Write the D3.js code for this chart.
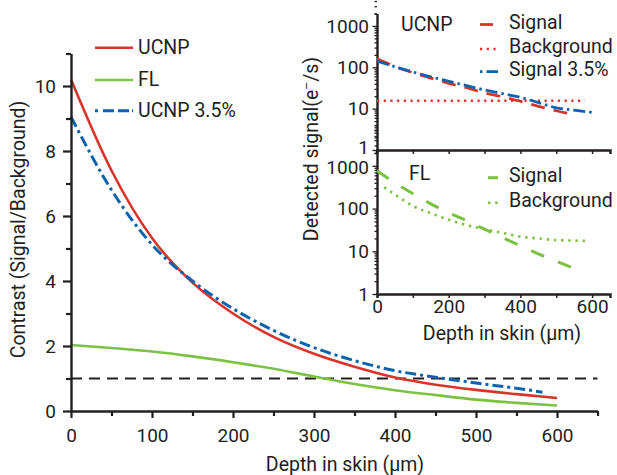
<!DOCTYPE html>
<html>
<head>
<meta charset="utf-8">
<script src="https://cdn.jsdelivr.net/npm/d3@7"></script>
<style>
  body { margin: 0; background: #fff; }
  svg text { font-family: Roboto, "Liberation Sans", sans-serif; fill: #231f20; }
</style>
</head>
<body>
<svg id="chart" width="617" height="475"></svg>
<script>
// ---- Contrast vs depth (main panel) ----
const depth = [0, 50, 100, 150, 200, 250, 300, 350, 400, 450, 500, 550, 600];
const contrastUCNP = [10.2, 7.4, 5.32, 3.95, 3.0, 2.28, 1.76, 1.36, 1.03, 0.81, 0.65, 0.52, 0.40];
const contrastFL = [2.03, 1.94, 1.83, 1.68, 1.50, 1.30, 1.06, 0.83, 0.64, 0.49, 0.35, 0.25, 0.17];
const depthUCNP35 = [0, 50, 100, 150, 200, 250, 300, 350, 400, 450, 500, 550, 582];
const contrastUCNP35 = [9.05, 6.8, 5.12, 4.0, 3.15, 2.48, 1.95, 1.55, 1.24, 1.04, 0.86, 0.70, 0.58];
const thresholdContrast = 1;

// ---- Detected signal (inset, e-/s) ----
const ucnpSignalDepth = [0, 50, 100, 150, 200, 250, 300, 350, 400, 450, 500, 545];
const ucnpSignal = [160, 105, 74, 55, 41, 32, 24, 19.4, 15.1, 11.4, 8.9, 7.3];
const ucnpBackgroundDepth = [0, 580];
const ucnpBackground = [15.5, 15.5];
const ucnp35SignalDepth = [0, 50, 100, 150, 200, 250, 300, 350, 400, 450, 500, 550, 600];
const ucnp35Signal = [141, 103, 77, 59, 46, 36, 28.4, 23, 18.7, 14, 10.5, 9.2, 8.1];
const flSignalDepth = [0, 50, 100, 150, 200, 250, 300, 350, 400, 450, 500, 545];
const flSignal = [770, 400, 224, 129, 80, 52, 33, 21, 13.5, 8.7, 5.9, 4.1];
const flBackgroundDepth = [20, 50, 100, 150, 200, 250, 300, 350, 400, 450, 500, 550, 580];
const flBackground = [315, 213, 115, 78, 55, 41, 33, 27, 22, 20, 18.2, 17.8, 17.5];

// ---- Axis ticks ----
const mainXTicks = d3.range(0, 651, 50);
const mainXLabels = [0, 100, 200, 300, 400, 500, 600];
const mainYTicks = d3.range(0, 12, 1);
const mainYLabels = [0, 2, 4, 6, 8, 10];
const insetXTicks = [0, 100, 200, 300, 400, 500, 600];
const insetXLabels = [0, 200, 400, 600];
const logMajor = [1, 10, 100, 1000];

const RED = "#d8352a", GREEN = "#7cc242", BLUE = "#0b63ad", INK = "#231f20";
const FS = "19.5px";

const svg = d3.select("#chart");

// ================= main panel =================
const x = d3.scaleLinear().domain([0, 650]).range([71, 597.5]);
const y = d3.scaleLinear().domain([0, 11]).range([411, 53.5]);

function pairs(xs, ys) { return xs.map((d, i) => [d, ys[i]]); }

const line = d3.line().x(d => x(d[0])).y(d => y(d[1])).curve(d3.curveMonotoneX);

// threshold line at contrast = 1
svg.append("line")
  .attr("x1", x(0)).attr("x2", x(650))
  .attr("y1", y(thresholdContrast)).attr("y2", y(thresholdContrast))
  .attr("stroke", INK).attr("stroke-width", 2.2)
  .attr("stroke-dasharray", "11,7");

svg.append("path").datum(pairs(depth, contrastFL))
  .attr("d", line).attr("fill", "none").attr("stroke", GREEN).attr("stroke-width", 2.6);
svg.append("path").datum(pairs(depth, contrastUCNP))
  .attr("d", line).attr("fill", "none").attr("stroke", RED).attr("stroke-width", 2.6);
svg.append("path").datum(pairs(depthUCNP35, contrastUCNP35))
  .attr("d", line).attr("fill", "none").attr("stroke", BLUE).attr("stroke-width", 3)
  .attr("stroke-dasharray", "11,4,3,4");

// x axis
const gx = svg.append("g").attr("transform", `translate(0,${y(0)})`)
  .call(d3.axisBottom(x).tickValues(mainXTicks).tickSizeOuter(0)
    .tickFormat(d => mainXLabels.includes(d) ? d : ""));
// y axis
const gy = svg.append("g").attr("transform", `translate(${x(0)},0)`)
  .call(d3.axisLeft(y).tickValues(mainYTicks).tickSizeOuter(0)
    .tickFormat(d => mainYLabels.includes(d) ? d : ""));

[gx, gy].forEach(g => {
  g.select(".domain").attr("stroke", INK).attr("stroke-width", 2.4);
  g.selectAll(".tick line").attr("stroke", INK).attr("stroke-width", 2.2);
  g.selectAll(".tick text").style("font-size", "19px").attr("fill", INK);
});
gx.selectAll(".tick line").attr("y2", d => mainXLabels.includes(d) ? 7 : 5);
gx.selectAll(".tick text").attr("y", 31).attr("dy", 0);
gy.selectAll(".tick line").attr("x2", d => mainYLabels.includes(d) ? -8 : -5);
gy.selectAll(".tick text").attr("x", -15);

// axis titles
svg.append("text").attr("x", 345).attr("y", 471).attr("text-anchor", "middle")
  .style("font-size", FS).text("Depth in skin (µm)");
svg.append("text").attr("transform", "translate(25,229.5) rotate(-90)")
  .attr("text-anchor", "middle").style("font-size", FS).text("Contrast (Signal/Background)");

// legend
const mainLegend = [
  { label: "UCNP", color: RED, dash: null, width: 2.6, y: 47.7 },
  { label: "FL", color: GREEN, dash: null, width: 2.6, y: 80 },
  { label: "UCNP 3.5%", color: BLUE, dash: "3,5,11,4,11", width: 3, y: 110.7 }
];
mainLegend.forEach(d => {
  svg.append("line").attr("x1", 95).attr("x2", 133).attr("y1", d.y).attr("y2", d.y)
    .attr("stroke", d.color).attr("stroke-width", d.width)
    .attr("stroke-dasharray", d.dash);
  svg.append("text").attr("x", 138).attr("y", d.y + 5.8).style("font-size", FS).text(d.label);
});

// ================= inset panels =================
const xi = d3.scaleLinear().domain([0, 650]).range([377, 610]);
const yTop = d3.scaleLog().domain([1, 2000]).range([150, 13.5]);
const yBot = d3.scaleLog().domain([1, 2000]).range([294, 153]);

function logTicks() {
  const t = [];
  for (let p = 1; p <= 1000; p *= 10) for (let m = 1; m <= 9; m++) t.push(m * p);
  t.push(2000);
  return t;
}

function drawLogAxis(yScale, top, labelShift) {
  const g = svg.append("g").attr("transform", `translate(${xi(0)},0)`)
    .call(d3.axisLeft(yScale).tickValues(logTicks()).tickSizeOuter(0)
      .tickFormat(d => logMajor.includes(d) ? d3.format("d")(d) : ""));
  g.select(".domain").attr("stroke", INK).attr("stroke-width", 2.4);
  g.selectAll(".tick line").attr("stroke", INK).attr("stroke-width", 1.3)
    .attr("x2", d => logMajor.includes(d) ? -4.5 : -2.5);
  g.selectAll(".tick text").style("font-size", "19px").attr("x", -8).attr("fill", INK)
    .attr("y", d => labelShift[d] || 0);
  // carry the vertical axis up to the panel's top edge
  svg.append("line").attr("x1", xi(0)).attr("x2", xi(0))
    .attr("y1", yScale.range()[1]).attr("y2", top)
    .attr("stroke", INK).attr("stroke-width", 2.4);
  return g;
}
// the "1" of the upper panel and the "1000" of the lower one sit close together
drawLogAxis(yTop, 13.5, { 1: -3 });
drawLogAxis(yBot, 150, { 1000: 2 });

// shared boundary between the two inset panels (ticks pointing down)
const gMid = svg.append("g").attr("transform", `translate(0,150)`)
  .call(d3.axisBottom(xi).tickValues(insetXTicks).tickSizeOuter(0).tickSize(4).tickFormat(""));
gMid.select(".domain").attr("stroke", INK).attr("stroke-width", 2.4);
gMid.selectAll(".tick line").attr("stroke", INK).attr("stroke-width", 1.5);

// bottom inset x axis
const gxi = svg.append("g").attr("transform", `translate(0,294)`)
  .call(d3.axisBottom(xi).tickValues(insetXTicks).tickSizeOuter(0).tickSize(4)
    .tickFormat(d => insetXLabels.includes(d) ? d : ""));
gxi.select(".domain").attr("stroke", INK).attr("stroke-width", 2.4);
gxi.selectAll(".tick line").attr("stroke", INK).attr("stroke-width", 1.5);
gxi.selectAll(".tick text").style("font-size", "19px").attr("y", 18.5).attr("dy", 0).attr("fill", INK);

svg.append("text").attr("x", 502).attr("y", 340).attr("text-anchor", "middle")
  .style("font-size", FS).text("Depth in skin (µm)");

const yTitle = svg.append("text").attr("transform", "translate(318,149) rotate(-90)")
  .attr("text-anchor", "middle").style("font-size", FS);
yTitle.append("tspan").text("Detected signal(e");
yTitle.append("tspan").attr("dy", -7).style("font-size", "12px").text("\u2013");
yTitle.append("tspan").attr("dy", 7).text("/s)");

const lineTop = d3.line().x(d => xi(d[0])).y(d => yTop(d[1])).curve(d3.curveMonotoneX);
const lineBot = d3.line().x(d => xi(d[0])).y(d => yBot(d[1])).curve(d3.curveMonotoneX);

// UCNP panel
svg.append("path").datum(pairs(ucnpBackgroundDepth, ucnpBackground)).attr("d", lineTop)
  .attr("fill", "none").attr("stroke", RED).attr("stroke-width", 2.4).attr("stroke-dasharray", "2.2,4.5");
svg.append("path").datum(pairs(ucnpSignalDepth, ucnpSignal)).attr("d", lineTop)
  .attr("fill", "none").attr("stroke", RED).attr("stroke-width", 2.8).attr("stroke-dasharray", "14,9");
svg.append("path").datum(pairs(ucnp35SignalDepth, ucnp35Signal)).attr("d", lineTop)
  .attr("fill", "none").attr("stroke", BLUE).attr("stroke-width", 2.8).attr("stroke-dasharray", "12,4,2.5,4");

// FL panel
svg.append("path").datum(pairs(flBackgroundDepth, flBackground)).attr("d", lineBot)
  .attr("fill", "none").attr("stroke", GREEN).attr("stroke-width", 2.6).attr("stroke-dasharray", "2.4,4.8");
svg.append("path").datum(pairs(flSignalDepth, flSignal)).attr("d", lineBot)
  .attr("fill", "none").attr("stroke", GREEN).attr("stroke-width", 3).attr("stroke-dasharray", "14,15");

// inset legends
svg.append("text").attr("x", 401).attr("y", 30.5).style("font-size", FS).text("UCNP");
svg.append("text").attr("x", 409).attr("y", 179.5).style("font-size", FS).text("FL");

const insetLegend = [
  { label: "Signal", color: RED, dash: "13,20", w: 2.8, y: 28.5 },
  { label: "Background", color: RED, dash: "2.2,4.5", w: 2.4, y: 53 },
  { label: "Signal 3.5%", color: BLUE, dash: "2.5,4,12", w: 2.8, y: 75.7 },
  { label: "Signal", color: GREEN, dash: "13,20", w: 3, y: 181.7 },
  { label: "Background", color: GREEN, dash: "2.4,4.8", w: 2.6, y: 206.7 }
];
insetLegend.forEach(d => {
  const x0 = d.color === GREEN ? 488 : 480;
  svg.append("line").attr("x1", x0).attr("x2", 498).attr("y1", d.y - 4).attr("y2", d.y - 4)
    .attr("stroke", d.color).attr("stroke-width", d.w).attr("stroke-dasharray", d.dash);
  svg.append("text").attr("x", 509).attr("y", d.y).style("font-size", FS).text(d.label);
});
</script>
</body>
</html>
